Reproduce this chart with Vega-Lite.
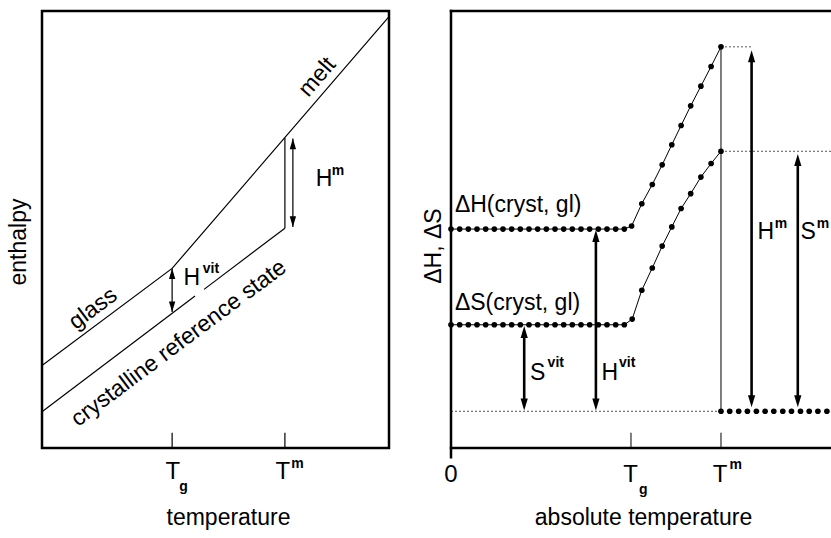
{
  "$schema": "https://vega.github.io/schema/vega-lite/v6.json",
  "padding": {"left": 5, "top": 9, "right": 0, "bottom": 0},
  "autosize": {"type": "pad"},
  "background": "white",
  "spacing": 29,
  "config": {
    "font": "Liberation Sans",
    "axis": {"grid": false, "domain": false, "ticks": false, "labels": false, "titleFont": "Liberation Sans", "titleFontSize": 23, "titleFontWeight": "normal", "titleColor": "black"},
    "text": {"font": "Liberation Sans", "color": "black"}
  },
  "datasets": {
    "L_lines": [
      {"seg": "gm", "x": 0, "y": 18.9}, {"seg": "gm", "x": 37.5, "y": 41.1}, {"seg": "gm", "x": 100, "y": 98.7},
      {"seg": "c1", "x": 0, "y": 8.3}, {"seg": "c1", "x": 44.1, "y": 34.8},
      {"seg": "c2", "x": 46.7, "y": 36.3}, {"seg": "c2", "x": 70, "y": 50.3}
    ],
    "L_rules": [
      {"x": 70, "x2": 70, "y": 50.3, "y2": 71.0},
      {"x": 72.3, "x2": 72.3, "y": 50.6, "y2": 70.8},
      {"x": 37.5, "x2": 37.5, "y": 31.1, "y2": 41.1},
      {"x": 37.5, "x2": 37.5, "y": 0, "y2": 3.5},
      {"x": 70, "x2": 70, "y": 0, "y2": 3.5}
    ],
    "L_heads": [
      {"x": 72.3, "y": 70.8, "dir": "up"}, {"x": 72.3, "y": 50.6, "dir": "down"},
      {"x": 37.5, "y": 41.1, "dir": "up"}, {"x": 37.5, "y": 31.1, "dir": "down"}
    ],
    "L_rot1": [
      {"t": "glass", "x": 14.7, "y": 31.9},
      {"t": "crystalline reference state", "x": 39.4, "y": 24.0}
    ],
    "L_rot2": [{"t": "melt", "x": 79.3, "y": 84.9}],
    "L_main": [{"t": "H", "x": 81.3, "y": 61.6}, {"t": "H", "x": 43.2, "y": 38.9}],
    "L_tick": [{"t": "T", "x": 37.7, "y": -5.5}, {"t": "T", "x": 69.4, "y": -5.5}],
    "L_small": [
      {"t": "m", "x": 85.3, "y": 63.4}, {"t": "vit", "x": 48.7, "y": 40.9},
      {"t": "m", "x": 73.6, "y": -3.6}, {"t": "g", "x": 40.8, "y": -9.0}
    ],
    "R_curves": [
      {"s": "dH", "x": 0, "y": 50.1}, {"s": "dH", "x": 2.89, "y": 50.1}, {"s": "dH", "x": 5.78, "y": 50.1}, {"s": "dH", "x": 8.67, "y": 50.1},
      {"s": "dH", "x": 11.56, "y": 50.1}, {"s": "dH", "x": 14.44, "y": 50.1}, {"s": "dH", "x": 17.33, "y": 50.1}, {"s": "dH", "x": 20.22, "y": 50.1},
      {"s": "dH", "x": 23.11, "y": 50.1}, {"s": "dH", "x": 26.0, "y": 50.1}, {"s": "dH", "x": 28.89, "y": 50.1}, {"s": "dH", "x": 31.78, "y": 50.1},
      {"s": "dH", "x": 34.67, "y": 50.1}, {"s": "dH", "x": 37.56, "y": 50.1}, {"s": "dH", "x": 40.44, "y": 50.1}, {"s": "dH", "x": 43.33, "y": 50.1},
      {"s": "dH", "x": 46.22, "y": 50.1}, {"s": "dH", "x": 49.11, "y": 50.1}, {"s": "dH", "x": 52.0, "y": 50.1}, {"s": "dH", "x": 54.89, "y": 50.1},
      {"s": "dH", "x": 57.78, "y": 50.1}, {"s": "dH", "x": 60.2, "y": 50.8},
      {"s": "dH", "x": 63.6, "y": 55.9}, {"s": "dH", "x": 67.1, "y": 60.3}, {"s": "dH", "x": 70.4, "y": 64.8}, {"s": "dH", "x": 73.6, "y": 69.4},
      {"s": "dH", "x": 76.7, "y": 73.8}, {"s": "dH", "x": 79.9, "y": 78.3}, {"s": "dH", "x": 83.3, "y": 82.8}, {"s": "dH", "x": 86.7, "y": 87.3},
      {"s": "dH", "x": 90.0, "y": 91.8},
      {"s": "dS", "x": 0, "y": 28.2}, {"s": "dS", "x": 2.89, "y": 28.2}, {"s": "dS", "x": 5.78, "y": 28.2}, {"s": "dS", "x": 8.67, "y": 28.2},
      {"s": "dS", "x": 11.56, "y": 28.2}, {"s": "dS", "x": 14.44, "y": 28.2}, {"s": "dS", "x": 17.33, "y": 28.2}, {"s": "dS", "x": 20.22, "y": 28.2},
      {"s": "dS", "x": 23.11, "y": 28.2}, {"s": "dS", "x": 26.0, "y": 28.2}, {"s": "dS", "x": 28.89, "y": 28.2}, {"s": "dS", "x": 31.78, "y": 28.2},
      {"s": "dS", "x": 34.67, "y": 28.2}, {"s": "dS", "x": 37.56, "y": 28.2}, {"s": "dS", "x": 40.44, "y": 28.2}, {"s": "dS", "x": 43.33, "y": 28.2},
      {"s": "dS", "x": 46.22, "y": 28.2}, {"s": "dS", "x": 49.11, "y": 28.2}, {"s": "dS", "x": 52.0, "y": 28.2}, {"s": "dS", "x": 54.89, "y": 28.2},
      {"s": "dS", "x": 57.78, "y": 28.2}, {"s": "dS", "x": 60.4, "y": 29.5},
      {"s": "dS", "x": 63.6, "y": 36.1}, {"s": "dS", "x": 67.1, "y": 41.2}, {"s": "dS", "x": 70.4, "y": 46.2}, {"s": "dS", "x": 73.6, "y": 50.6},
      {"s": "dS", "x": 76.7, "y": 54.8}, {"s": "dS", "x": 79.9, "y": 58.2}, {"s": "dS", "x": 83.3, "y": 62.0}, {"s": "dS", "x": 86.7, "y": 65.1},
      {"s": "dS", "x": 90.0, "y": 67.9}
    ],
    "R_bottom": [
      {"x": 90.0, "y": 8.4}, {"x": 92.9, "y": 8.4}, {"x": 95.9, "y": 8.4}, {"x": 98.8, "y": 8.4}, {"x": 101.8, "y": 8.4},
      {"x": 104.7, "y": 8.4}, {"x": 107.6, "y": 8.4}, {"x": 110.6, "y": 8.4}, {"x": 113.5, "y": 8.4}, {"x": 116.5, "y": 8.4},
      {"x": 119.4, "y": 8.4}, {"x": 122.3, "y": 8.4}, {"x": 125.3, "y": 8.4}
    ],
    "R_rules": [
      {"kind": "frame", "x": 0, "x2": 126.67, "y": 100, "y2": 100},
      {"kind": "frame", "x": 0, "x2": 0, "y": -2.1, "y2": 100},
      {"kind": "frame", "x": 0, "x2": 126.67, "y": 0, "y2": 0},
      {"kind": "thin", "x": 60, "x2": 60, "y": 0, "y2": 3.5},
      {"kind": "thin", "x": 90, "x2": 90, "y": 0, "y2": 3.5},
      {"kind": "thin", "x": 90, "x2": 90, "y": 8.4, "y2": 91.8},
      {"kind": "dot", "x": 0, "x2": 90, "y": 8.4, "y2": 8.4},
      {"kind": "dot", "x": 90, "x2": 100.2, "y": 91.8, "y2": 91.8},
      {"kind": "dot", "x": 90, "x2": 126.67, "y": 67.9, "y2": 67.9},
      {"kind": "arrow", "x": 24.4, "x2": 24.4, "y": 10.5, "y2": 26.0},
      {"kind": "arrow", "x": 48.3, "x2": 48.3, "y": 10.5, "y2": 48.0},
      {"kind": "arrow", "x": 100.2, "x2": 100.2, "y": 11.2, "y2": 89.1},
      {"kind": "arrow", "x": 115.6, "x2": 115.6, "y": 11.2, "y2": 65.4}
    ],
    "R_heads": [
      {"x": 24.4, "y": 27.9, "dir": "up"}, {"x": 24.4, "y": 8.6, "dir": "down"},
      {"x": 48.3, "y": 49.9, "dir": "up"}, {"x": 48.3, "y": 8.6, "dir": "down"},
      {"x": 100.2, "y": 91.0, "dir": "up"}, {"x": 100.2, "y": 9.3, "dir": "down"},
      {"x": 115.6, "y": 67.3, "dir": "up"}, {"x": 115.6, "y": 9.3, "dir": "down"}
    ],
    "R_text_left": [
      {"t": "ΔH(cryst, gl)", "x": 1.3, "y": 55.5}, {"t": "ΔS(cryst, gl)", "x": 1.3, "y": 33.2},
      {"t": "S", "x": 26.3, "y": 17.2}, {"t": "H", "x": 50.2, "y": 17.2}
    ],
    "R_text_center": [{"t": "H", "x": 104.9, "y": 49.4}, {"t": "S", "x": 119.1, "y": 49.4}],
    "R_tick": [{"t": "0", "x": 0, "y": -6.2}, {"t": "T", "x": 59.9, "y": -6.2}, {"t": "T", "x": 89.7, "y": -6.2}],
    "R_small_left": [{"t": "vit", "x": 32.2, "y": 19.4}, {"t": "vit", "x": 56.0, "y": 19.4}],
    "R_small_center": [
      {"t": "m", "x": 110.0, "y": 51.2}, {"t": "m", "x": 124.0, "y": 51.2},
      {"t": "m", "x": 94.9, "y": -4.0}, {"t": "g", "x": 64.1, "y": -9.6}
    ]
  },
  "hconcat": [
    {
      "width": 347,
      "height": 437,
      "view": {"stroke": "black", "strokeWidth": 2.5},
      "encoding": {
        "x": {"field": "x", "type": "quantitative", "scale": {"domain": [0, 100], "nice": false, "zero": false}, "axis": {"title": "temperature", "titlePadding": 58, "titleX": 186}},
        "y": {"field": "y", "type": "quantitative", "scale": {"domain": [0, 100], "nice": false, "zero": false}, "axis": {"title": "enthalpy", "titlePadding": 12, "titleY": 230.5}}
      },
      "layer": [
        {"data": {"name": "L_lines"}, "mark": {"type": "line", "color": "black", "strokeWidth": 1.2}, "encoding": {"detail": {"field": "seg"}}},
        {"data": {"name": "L_rules"}, "mark": {"type": "rule", "color": "black", "strokeWidth": 1.2}, "encoding": {"x2": {"field": "x2"}, "y2": {"field": "y2"}}},
        {"data": {"name": "L_heads"}, "mark": {"type": "point", "filled": true, "opacity": 1, "color": "black", "size": 450, "strokeWidth": 0},
          "encoding": {"shape": {"field": "dir", "type": "nominal", "scale": {"domain": ["up", "down"], "range": ["M0,0L0.3,1L-0.3,1Z", "M0,0L0.3,-1L-0.3,-1Z"]}, "legend": null}}},
        {"data": {"name": "L_rot1"}, "mark": {"type": "text", "fontSize": 23, "angle": 323.2, "align": "center", "baseline": "middle"}, "encoding": {"text": {"field": "t"}}},
        {"data": {"name": "L_rot2"}, "mark": {"type": "text", "fontSize": 23, "angle": 311, "align": "center", "baseline": "middle"}, "encoding": {"text": {"field": "t"}}},
        {"data": {"name": "L_main"}, "mark": {"type": "text", "fontSize": 23, "align": "center", "baseline": "middle"}, "encoding": {"text": {"field": "t"}}},
        {"data": {"name": "L_tick"}, "mark": {"type": "text", "fontSize": 24, "align": "center", "baseline": "middle"}, "encoding": {"text": {"field": "t"}}},
        {"data": {"name": "L_small"}, "mark": {"type": "text", "fontSize": 14, "fontWeight": "bold", "align": "center", "baseline": "middle"}, "encoding": {"text": {"field": "t"}}}
      ]
    },
    {
      "width": 380,
      "height": 437,
      "view": {"stroke": null},
      "encoding": {
        "x": {"field": "x", "type": "quantitative", "scale": {"domain": [0, 126.67], "nice": false, "zero": false}, "axis": {"title": "absolute temperature", "titlePadding": 58, "titleX": 192}},
        "y": {"field": "y", "type": "quantitative", "scale": {"domain": [0, 100], "nice": false, "zero": false}, "axis": {"title": "ΔH, ΔS", "titlePadding": 6, "titleY": 234.6}}
      },
      "layer": [
        {"data": {"name": "R_rules"}, "transform": [{"filter": "datum.kind === 'dot'"}], "mark": {"type": "rule", "color": "#555", "strokeWidth": 1, "strokeDash": [2, 2]}, "encoding": {"x2": {"field": "x2"}, "y2": {"field": "y2"}}},
        {"data": {"name": "R_rules"}, "transform": [{"filter": "datum.kind === 'frame'"}], "mark": {"type": "rule", "color": "black", "strokeWidth": 2.5, "strokeCap": "square"}, "encoding": {"x2": {"field": "x2"}, "y2": {"field": "y2"}}},
        {"data": {"name": "R_rules"}, "transform": [{"filter": "datum.kind === 'thin'"}], "mark": {"type": "rule", "color": "black", "strokeWidth": 1}, "encoding": {"x2": {"field": "x2"}, "y2": {"field": "y2"}}},
        {"data": {"name": "R_rules"}, "transform": [{"filter": "datum.kind === 'arrow'"}], "mark": {"type": "rule", "color": "black", "strokeWidth": 2.6}, "encoding": {"x2": {"field": "x2"}, "y2": {"field": "y2"}}},
        {"data": {"name": "R_heads"}, "mark": {"type": "point", "filled": true, "opacity": 1, "color": "black", "size": 576, "strokeWidth": 0},
          "encoding": {"shape": {"field": "dir", "type": "nominal", "scale": {"domain": ["up", "down"], "range": ["M0,0L0.3,1L-0.3,1Z", "M0,0L0.3,-1L-0.3,-1Z"]}, "legend": null}}},
        {"data": {"name": "R_curves"}, "mark": {"type": "line", "color": "black", "strokeWidth": 1}, "encoding": {"detail": {"field": "s"}}},
        {"data": {"name": "R_curves"}, "mark": {"type": "point", "filled": true, "opacity": 1, "color": "black", "size": 32, "strokeWidth": 0}},
        {"data": {"name": "R_bottom"}, "mark": {"type": "point", "filled": true, "opacity": 1, "color": "black", "size": 32, "strokeWidth": 0}},
        {"data": {"name": "R_text_left"}, "mark": {"type": "text", "fontSize": 23, "align": "left", "baseline": "middle"}, "encoding": {"text": {"field": "t"}}},
        {"data": {"name": "R_text_center"}, "mark": {"type": "text", "fontSize": 23, "align": "center", "baseline": "middle"}, "encoding": {"text": {"field": "t"}}},
        {"data": {"name": "R_tick"}, "mark": {"type": "text", "fontSize": 24, "align": "center", "baseline": "middle"}, "encoding": {"text": {"field": "t"}}},
        {"data": {"name": "R_small_left"}, "mark": {"type": "text", "fontSize": 14, "fontWeight": "bold", "align": "left", "baseline": "middle"}, "encoding": {"text": {"field": "t"}}},
        {"data": {"name": "R_small_center"}, "mark": {"type": "text", "fontSize": 14, "fontWeight": "bold", "align": "center", "baseline": "middle"}, "encoding": {"text": {"field": "t"}}}
      ]
    }
  ]
}
